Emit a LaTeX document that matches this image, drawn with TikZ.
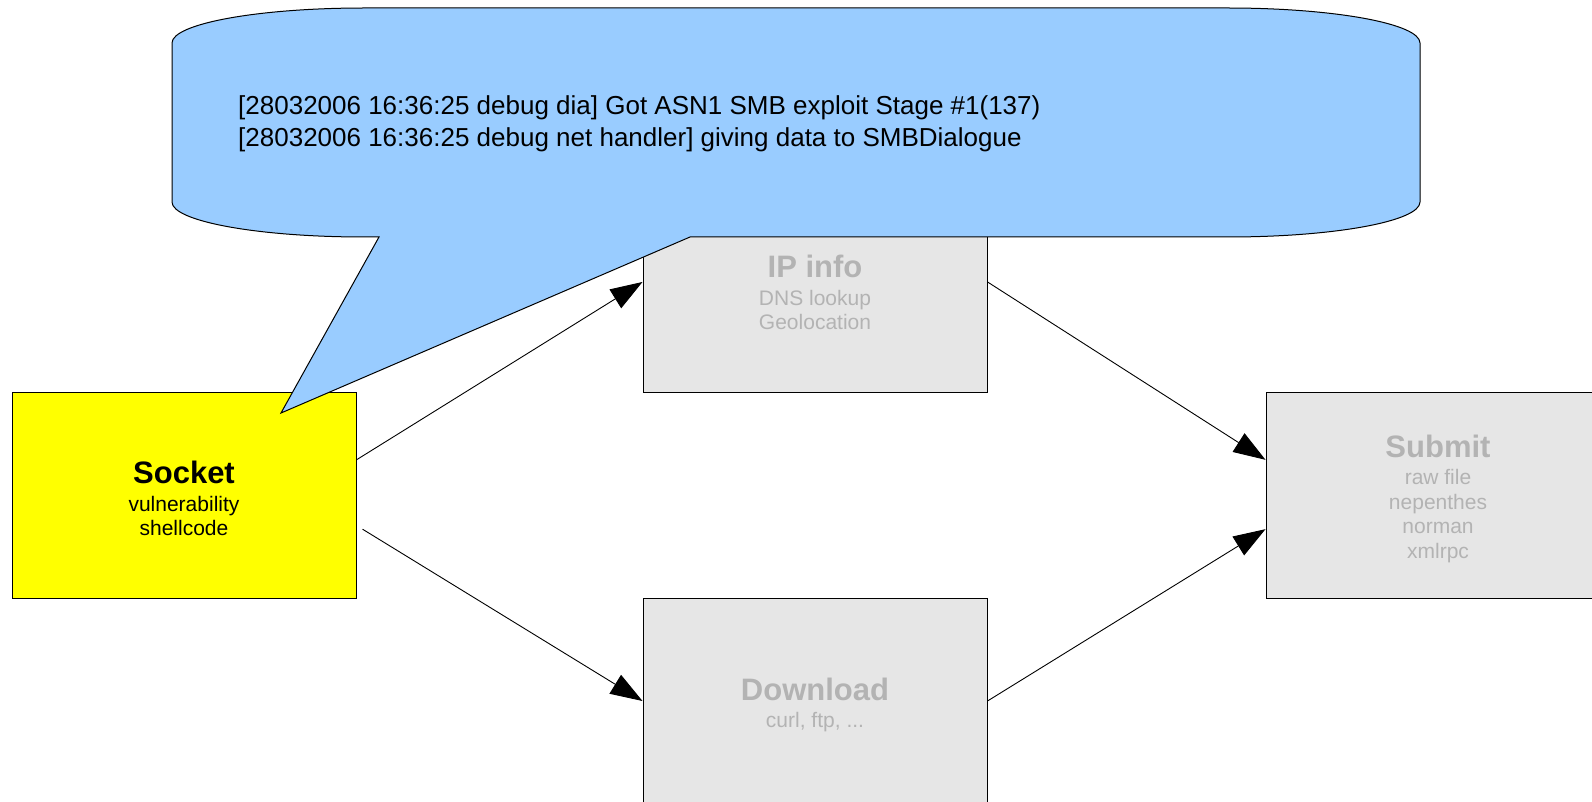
\documentclass[tikz,border=0pt]{standalone}
\usepackage{fontspec}
\setmainfont{Liberation Sans}
\usetikzlibrary{calc,arrows.meta}

\definecolor{idlefill}{HTML}{E6E6E6}
\definecolor{idletext}{HTML}{B3B3B3}
\definecolor{calloutblue}{HTML}{99CCFF}
\definecolor{activefill}{HTML}{FFFF00}

% bold stage title followed by its detail lines; the strut sets the text a little lower
\newcommand\boxtitle[1]{{\fontsize{31}{31}\selectfont\bfseries\rule{0pt}{30pt}#1}\\[3pt]}

\begin{document}
\begin{tikzpicture}[x=1pt,y=-1pt,
  box/.style={draw=black, line width=1pt, minimum width=344pt, minimum height=206pt,
              align=center, inner sep=0pt, font=\fontsize{21}{24.5}\selectfont},
  active/.style={box, fill=activefill, text=black},
  idle/.style={box, fill=idlefill, text=idletext},
  flow/.style={draw=black, line width=0.9pt, -{Triangle[length=32pt,width=22pt]}},
  callout/.style={draw=black, line width=1pt, fill=calloutblue},
  logtext/.style={anchor=base west, align=left, inner sep=0pt,
                  font=\fontsize{26}{32}\selectfont, text=black},
]
\useasboundingbox (0,0) rectangle (1592,802);
\clip (0,0) rectangle (1592,802);

% processing stages
\node[active] (sock) at (184,495) {\boxtitle{Socket}vulnerability\\shellcode};
\node[idle]   (ip)   at (815,289) {\boxtitle{IP info}DNS lookup\\Geolocation};
\node[idle]   (dl)   at (815,701) {\boxtitle{Download}curl, ftp, ...};
\node[idle]   (sub)  at (1438,495) {\boxtitle{Submit}raw file\\nepenthes\\norman\\xmlrpc};

% data flow
\draw[flow] ($(sock.north east)!0.33!(sock.south east)$) -- ($(ip.north west)!0.466!(ip.south west)$);
\draw[flow] ($(sock.north east)!0.665!(sock.south east)+(6,0)$) -- (dl.west);
\draw[flow] ($(ip.north east)!0.466!(ip.south east)$) -- ($(sub.north west)!0.33!(sub.south west)$);
\draw[flow] (dl.east) -- ($(sub.north west)!0.665!(sub.south west)$);

% log callout pointing at the socket stage
\coordinate (tip) at (281,413);
\path[callout]
  (172,43) .. controls (172,23.7) and (258,8) .. (364,8)
  -- (1228,8) .. controls (1334,8) and (1420,23.7) .. (1420,43)
  -- (1420,202) .. controls (1420,221.3) and (1334,237) .. (1228,237)
  -- (690,237) -- (tip) -- (379,237)
  -- (364,237) .. controls (258,237) and (172,221.3) .. (172,202) -- cycle;
% the base anchor of this two-line node sits on the last line
\node[logtext] (log) at (238,147)
  {{[}28032006 16:36:25 debug dia] Got ASN1 SMB exploit Stage \#1(137)\\
   {[}28032006 16:36:25 debug net handler] giving data to SMBDialogue};
\end{tikzpicture}
\end{document}
